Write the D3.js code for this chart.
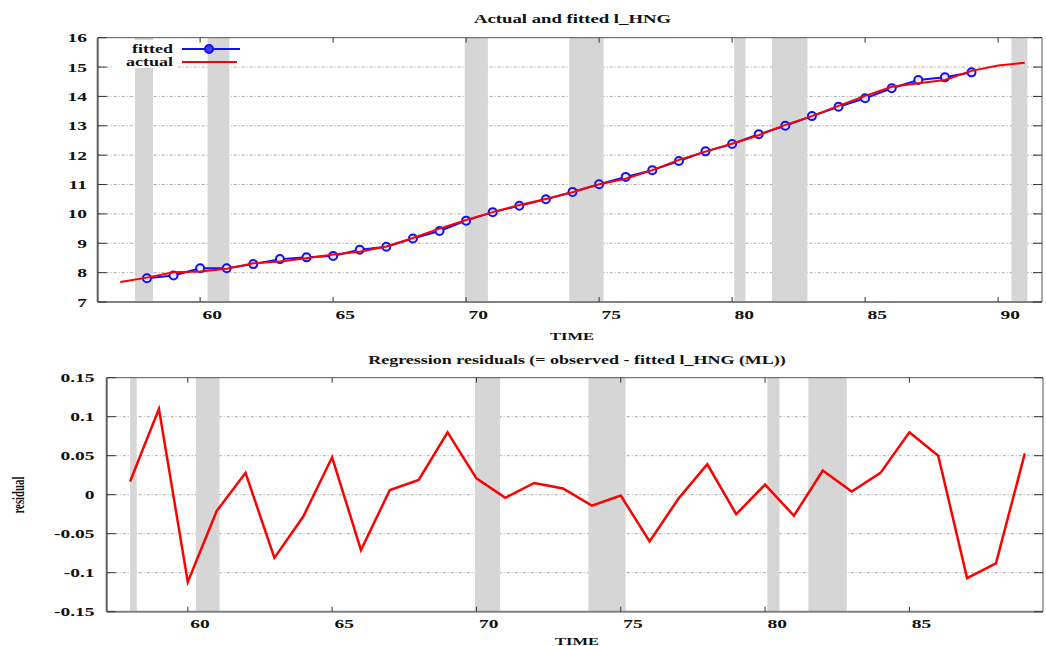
<!DOCTYPE html>
<html>
<head>
<meta charset="utf-8">
<script src="https://cdn.jsdelivr.net/npm/d3@7"></script>
<style>
  body { margin: 0; background: #fff; }
  text { font-family: "Liberation Serif", "DejaVu Serif", serif; font-weight: bold; fill: #111; }
</style>
</head>
<body>
<script>
// datos (años 19xx)
let fitYears = [58,59,60,61,62,63,64,65,66,67,68,69,70,71,72,73,74,75,76,77,78,79,80,81,82,83,84,85,86,87,88,89];
let fitted = [7.81,7.90,8.15,8.15,8.29,8.46,8.52,8.57,8.78,8.88,9.16,9.42,9.77,10.06,10.28,10.50,
              10.75,11.01,11.26,11.49,11.80,12.13,12.38,12.71,13.00,13.33,13.65,13.94,14.28,14.56,14.65,14.82];

let actYears = [57,58,59,60,61,62,63,64,65,66,67,68,69,70,71,72,73,74,75,76,77,78,79,80,81,82,83,84,85,86,87,88,89,90,91];
let actual = [7.68,7.83,8.01,8.04,8.13,8.32,8.38,8.49,8.62,8.71,8.89,9.18,9.50,9.79,10.06,10.30,10.51,
              10.74,11.01,11.20,11.49,11.84,12.12,12.39,12.68,13.03,13.33,13.68,14.02,14.33,14.45,14.56,14.87,15.05,15.15];

let residuals = [0.017,0.110,-0.112,-0.021,0.028,-0.081,-0.028,0.048,-0.071,0.006,0.019,0.080,0.021,-0.004,
                 0.015,0.008,-0.014,-0.001,-0.060,-0.005,0.039,-0.025,0.013,-0.027,0.031,0.004,0.028,0.080,
                 0.050,-0.107,-0.088,0.053];

// periodos sombreados
let bands = [[57.55,58.23],[60.28,61.10],[69.95,70.82],[73.88,75.17],[80.08,80.50],[81.50,82.83],[90.50,91.10]];

let topYTicks = [7,8,9,10,11,12,13,14,15,16];
let topXTicks = [60,65,70,75,80,85,90];
let resYTicks = [-0.15,-0.1,-0.05,0,0.05,0.1,0.15];
let resYLabels = ["-0.15","-0.1","-0.05","0","0.05","0.1","0.15"];
let resXTicks = [60,65,70,75,80,85];

let WIDTH = 1046, HEIGHT = 646;

let svg = d3.select("body").append("svg")
            .attr("width", WIDTH)
            .attr("height", HEIGHT);

// texto "ancho" como en el png original
function wideText(g, x, y, str, size, anchor, sx) {
    return g.append("text")
            .attr("transform", `translate(${x},${y}) scale(${sx || 1.5},1)`)
            .attr("text-anchor", anchor)
            .attr("font-size", size)
            .text(str);
}

function panel(cfg) {
    let g = svg.append("g");
    let x = d3.scaleLinear().domain(cfg.xDomain).range([cfg.left, cfg.right]);
    let y = d3.scaleLinear().domain(cfg.yDomain).range([cfg.bottom, cfg.top]);

    // grilla horizontal
    g.append("g").selectAll("line")
        .data(cfg.yTicks.filter(t => t > cfg.yDomain[0] && t < cfg.yDomain[1]))
        .enter().append("line")
        .attr("x1", cfg.left).attr("x2", cfg.right)
        .attr("y1", d => y(d)).attr("y2", d => y(d))
        .attr("stroke", "#a8a8a8")
        .attr("stroke-width", 1)
        .attr("stroke-dasharray", "3,2,1,2");

    // bandas grises
    g.append("g").selectAll("rect")
        .data(bands.filter(b => b[1] > cfg.bandMin && b[0] < cfg.xDomain[1]))
        .enter().append("rect")
        .attr("x", d => x(Math.max(d[0], cfg.bandMin)))
        .attr("width", d => x(Math.min(d[1], cfg.xDomain[1])) - x(Math.max(d[0], cfg.bandMin)))
        .attr("y", cfg.top)
        .attr("height", cfg.bottom - cfg.top)
        .attr("fill", "#d6d6d6");

    // marco
    g.append("line").attr("x1", cfg.left).attr("x2", cfg.right).attr("y1", cfg.top).attr("y2", cfg.top)
        .attr("stroke", "#555").attr("stroke-width", 1);
    g.append("line").attr("x1", cfg.right).attr("x2", cfg.right).attr("y1", cfg.top).attr("y2", cfg.bottom)
        .attr("stroke", "#555").attr("stroke-width", 1);
    g.append("line").attr("x1", cfg.left).attr("x2", cfg.right).attr("y1", cfg.bottom).attr("y2", cfg.bottom)
        .attr("stroke", "#808080").attr("stroke-width", 2);
    g.append("line").attr("x1", cfg.left).attr("x2", cfg.left).attr("y1", cfg.top).attr("y2", cfg.bottom)
        .attr("stroke", "#606060").attr("stroke-width", 2);

    // ticks
    cfg.yTicks.forEach((t, i) => {
        g.append("line").attr("x1", cfg.left).attr("x2", cfg.left + 9).attr("y1", y(t)).attr("y2", y(t))
            .attr("stroke", "#333");
        g.append("line").attr("x1", cfg.right - 9).attr("x2", cfg.right).attr("y1", y(t)).attr("y2", y(t))
            .attr("stroke", "#333");
        wideText(g, cfg.yLabelX, y(t) + 4.5, cfg.yLabels[i], 13, "end");
    });
    cfg.xTicks.forEach(t => {
        g.append("line").attr("x1", x(t)).attr("x2", x(t)).attr("y1", cfg.bottom).attr("y2", cfg.bottom - 5)
            .attr("stroke", "#333");
        g.append("line").attr("x1", x(t)).attr("x2", x(t)).attr("y1", cfg.top).attr("y2", cfg.top + 5)
            .attr("stroke", "#333");
        wideText(g, x(t) + 2.5, cfg.bottom + 16.5, String(t), 13, "start");
    });

    wideText(g, cfg.timeX, cfg.timeY, "TIME", 11, "middle");
    wideText(g, cfg.titleX, cfg.titleY, cfg.title, cfg.titleSize, "middle");

    return {g: g, x: x, y: y};
}

// ---- panel superior: actual y fitted ----
let topPanel = panel({
    left: 97.7, right: 1042, top: 37.7, bottom: 302,
    xDomain: [56.15, 91.65], yDomain: [7, 16],
    yTicks: topYTicks, yLabels: topYTicks.map(String), yLabelX: 87,
    xTicks: topXTicks, bandMin: 56.15,
    timeX: 572, timeY: 339.5,
    title: "Actual and fitted l_HNG", titleX: 572.5, titleY: 22.5, titleSize: 12.5
});

let fitPts = fitYears.map((yr, i) => [yr, fitted[i]]);
let actPts = actYears.map((yr, i) => [yr, actual[i]]);

topPanel.g.append("path")
    .datum(fitPts)
    .attr("d", d3.line().x(d => topPanel.x(d[0])).y(d => topPanel.y(d[1])))
    .attr("fill", "none")
    .attr("stroke", "#1010ff")
    .attr("stroke-width", 2);

topPanel.g.append("g").selectAll("circle")
    .data(fitPts)
    .enter().append("circle")
    .attr("cx", d => topPanel.x(d[0]))
    .attr("cy", d => topPanel.y(d[1]))
    .attr("r", 4)
    .attr("fill", "#e8e8ff")
    .attr("stroke", "#1010ff")
    .attr("stroke-width", 2);

topPanel.g.append("path")
    .datum(actPts)
    .attr("d", d3.line().x(d => topPanel.x(d[0])).y(d => topPanel.y(d[1])))
    .attr("fill", "none")
    .attr("stroke", "#ff0000")
    .attr("stroke-width", 2);

// leyenda
let legend = topPanel.g.append("g");
legend.append("rect").attr("x", 112).attr("y", 40).attr("width", 66).attr("height", 28).attr("fill", "#fff");
wideText(legend, 173, 53, "fitted", 12, "end");
wideText(legend, 173, 66, "actual", 12, "end");
legend.append("line").attr("x1", 182).attr("x2", 240).attr("y1", 49).attr("y2", 49)
    .attr("stroke", "#1010ff").attr("stroke-width", 2);
legend.append("circle").attr("cx", 209).attr("cy", 49).attr("r", 4)
    .attr("fill", "#4040ff").attr("stroke", "#1010ff").attr("stroke-width", 2);
legend.append("line").attr("x1", 182).attr("x2", 237).attr("y1", 62).attr("y2", 62)
    .attr("stroke", "#ff0000").attr("stroke-width", 2);

// ---- panel inferior: residuos ----
let resPanel = panel({
    left: 106.7, right: 1043, top: 377.7, bottom: 611.7,
    xDomain: [57.19, 89.63], yDomain: [-0.15, 0.15],
    yTicks: resYTicks, yLabels: resYLabels, yLabelX: 94.5,
    xTicks: resXTicks, bandMin: fitYears[0],
    timeX: 577, timeY: 644.5,
    title: "Regression residuals (= observed - fitted l_HNG (ML))", titleX: 577, titleY: 363.5, titleSize: 12
});

resPanel.g.append("path")
    .datum(fitYears.map((yr, i) => [yr, residuals[i]]))
    .attr("d", d3.line().x(d => resPanel.x(d[0])).y(d => resPanel.y(d[1])))
    .attr("fill", "none")
    .attr("stroke", "#ff0000")
    .attr("stroke-width", 2.5);

// etiqueta del eje y
svg.append("text")
    .attr("transform", "translate(24,495) rotate(-90)")
    .attr("text-anchor", "middle")
    .attr("font-size", 17)
    .attr("textLength", 37)
    .attr("lengthAdjust", "spacingAndGlyphs")
    .text("residual");
</script>
</body>
</html>
